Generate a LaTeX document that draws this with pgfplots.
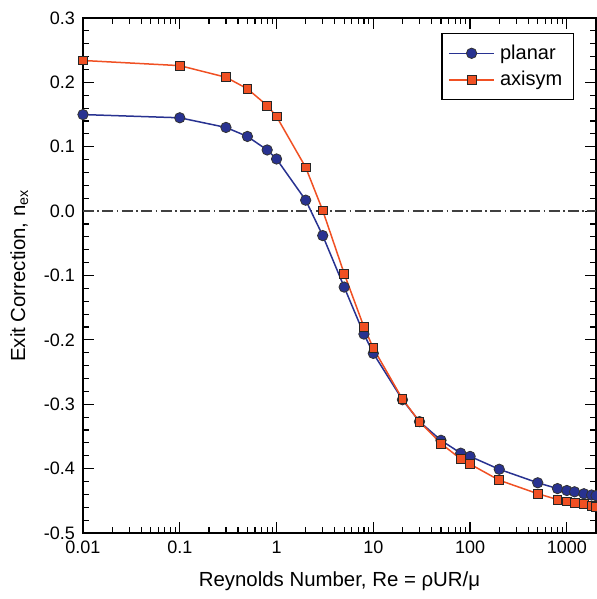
\documentclass[border=0pt]{standalone}
\usepackage{fontspec}
\setmainfont{Liberation Sans}
\usepackage{pgfplots}
\pgfplotsset{compat=1.18}

\definecolor{planarblue}{RGB}{40,50,145}
\definecolor{axisorange}{RGB}{240,80,35}

\begin{document}
\begin{tikzpicture}
\begin{axis}[
  scale only axis,
  width=256.5pt, height=257.5pt,
  xmode=log,
  xmin=0.01, xmax=2000,
  ymin=-0.5, ymax=0.3,
  xtick={0.01,0.1,1,10,100,1000},
  xticklabels={0.01,0.1,1,10,100,1000},
  ytick={-0.5,-0.4,-0.3,-0.2,-0.1,0,0.1,0.2,0.3},
  minor y tick num=4,
  yticklabel style={/pgf/number format/fixed, /pgf/number format/fixed zerofill,
    /pgf/number format/precision=1},
  /pgf/number format/assume math mode=true,
  tick align=inside,
  major tick length=5.5pt,
  minor tick length=3pt,
  every tick/.style={black, line width=0.6pt},
  axis line style={line width=1pt},
  font=\fontsize{10.2}{12}\selectfont,
  tick label style={font=\fontsize{9}{11}\selectfont},
  xticklabel style={yshift=-0.5pt},
  yticklabel style={xshift=-0.5pt},
  xlabel={Reynolds Number, Re = ρUR/μ},
  ylabel={Exit Correction, n\textsubscript{ex}},
  xlabel style={yshift=-2pt},
  ylabel style={yshift=1pt},
  legend style={
    at={(0.957,0.971)}, anchor=north east,
    draw=black, line width=0.6pt,
    font=\fontsize{10}{12}\selectfont,
    inner xsep=3pt, inner ysep=3.5pt,
    row sep=0.5pt,
    nodes={inner xsep=2.5pt},
  },
  legend cell align=left,
  legend image code/.code={%
    \draw[mark repeat=2, mark phase=2, #1]
      plot coordinates {(0cm,0cm) (0.4cm,0cm) (0.8cm,0cm)};},
]

% reference line at zero
\addplot[forget plot, black!75, line width=0.7pt,
  dash pattern=on 5.5pt off 1.7pt on 0.8pt off 1.7pt]
  coordinates {(0.01,0) (2000,0)};

\addplot[planarblue, line width=0.75pt, mark=*,
  mark options={fill=planarblue, draw=black!80, line width=0.4pt, scale=1.3}]
  coordinates {
    (0.01,0.150) (0.1,0.145) (0.3,0.130) (0.5,0.116) (0.8,0.095) (1,0.081)
    (2,0.017) (3,-0.038) (5,-0.118) (8,-0.191) (10,-0.221) (20,-0.293)
    (30,-0.327) (50,-0.356) (80,-0.376) (100,-0.381) (200,-0.401)
    (500,-0.422) (800,-0.431) (1000,-0.434) (1200,-0.436) (1500,-0.439)
    (1800,-0.441) (2000,-0.442)
  };
\addlegendentry{planar}

\addplot[axisorange, line width=0.75pt, mark=square*,
  mark options={fill=axisorange, draw=black!85, line width=0.4pt, scale=1.1}]
  coordinates {
    (0.01,0.234) (0.1,0.226) (0.3,0.208) (0.5,0.190) (0.8,0.164) (1,0.147)
    (2,0.068) (3,0.001) (5,-0.097) (8,-0.180) (10,-0.213) (20,-0.292)
    (30,-0.327) (50,-0.361) (80,-0.385) (100,-0.393) (200,-0.418)
    (500,-0.439) (800,-0.448) (1000,-0.451) (1200,-0.453) (1500,-0.455)
    (1800,-0.458) (2000,-0.460)
  };
\addlegendentry{axisym}

\end{axis}
% page ends at the right spine
\pgfresetboundingbox
\path (current axis.south west) ++(-41.5pt,-33pt) coordinate (bbA);
\path (current axis.north east) ++(-0.3pt,9pt) coordinate (bbB);
\useasboundingbox (bbA) rectangle (bbB);
\end{tikzpicture}
\end{document}
